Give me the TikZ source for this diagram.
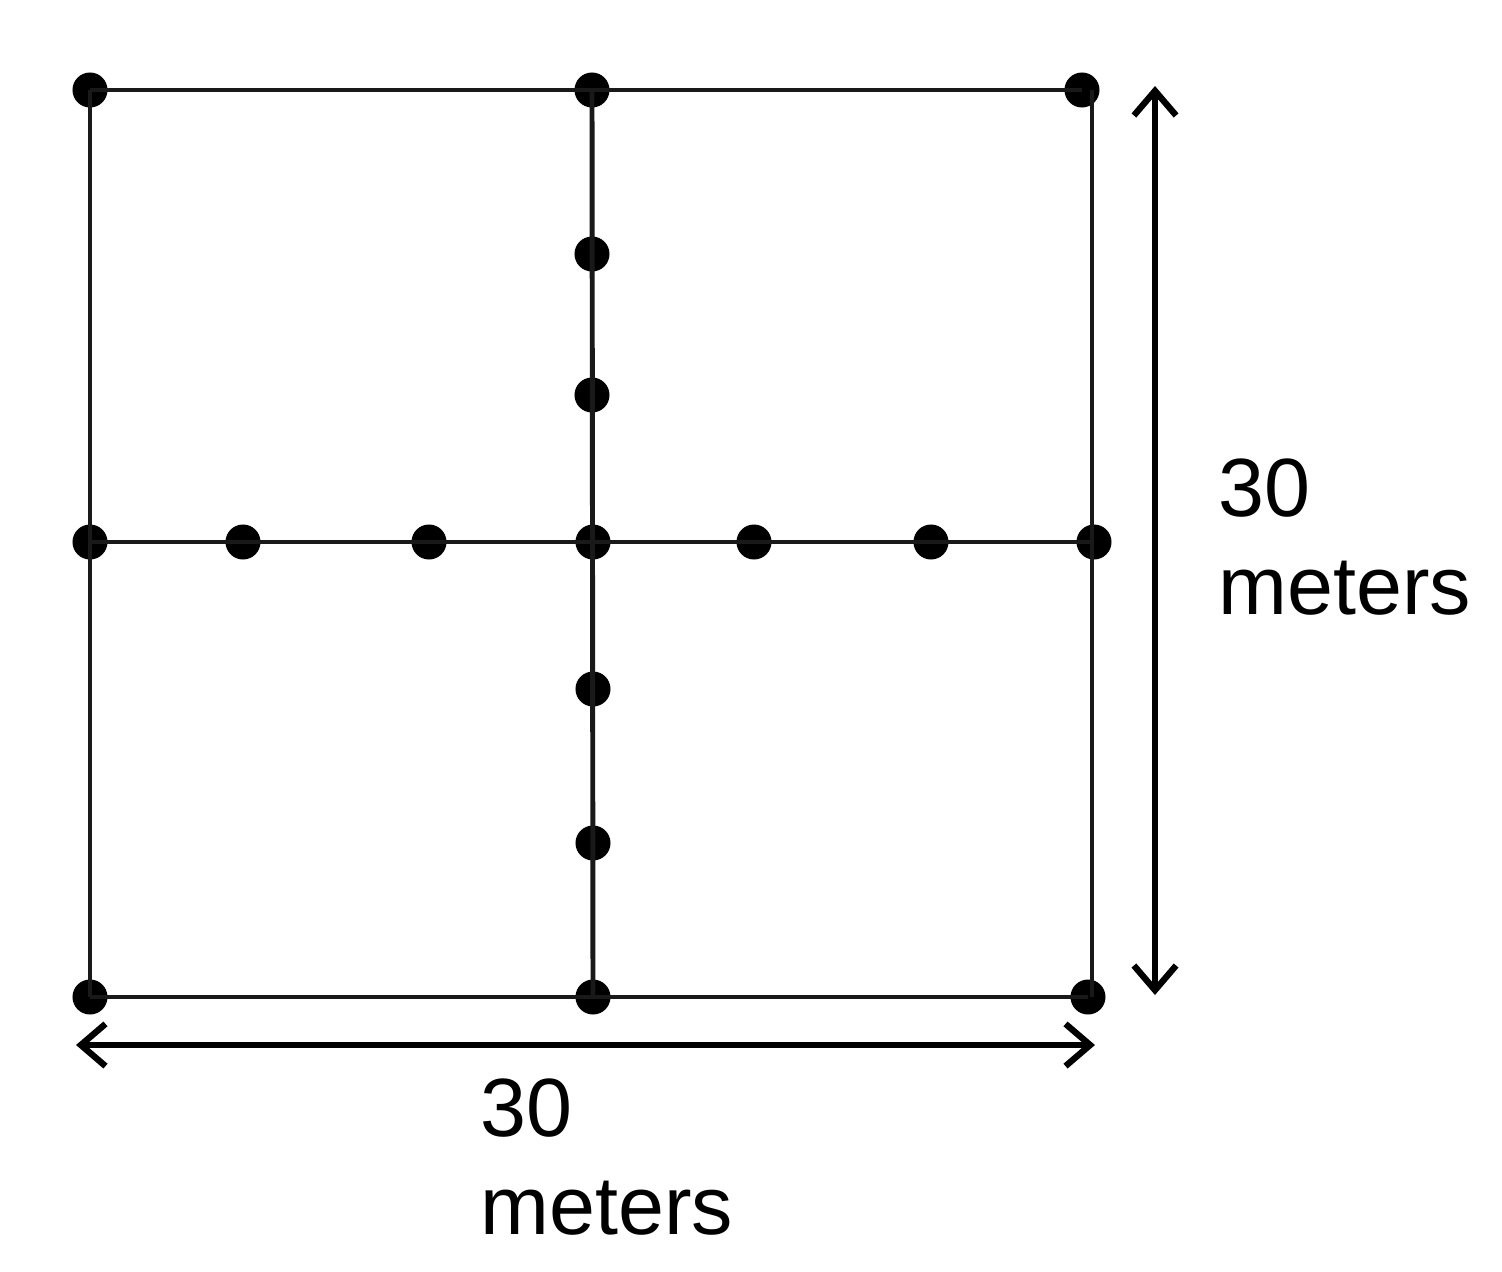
\documentclass[tikz,border=0pt]{standalone}
\usepackage{fontspec}
\setmainfont{Liberation Sans}
\usetikzlibrary{arrows.meta}
\begin{document}
\begin{tikzpicture}[x=0.01cm,y=-0.01cm,
  dot/.style={circle,fill=black,inner sep=0pt,minimum size=0.35cm},
  edge/.style={line width=1.4pt,black!90},
  dim/.style={line width=1.6pt,{Straight Barb[length=7pt,width=12pt,line width=1.8pt]}-{Straight Barb[length=7pt,width=12pt,line width=1.8pt]}},
  lab/.style={font=\fontsize{23.5}{28}\selectfont,anchor=west,inner sep=0pt}]
\useasboundingbox (0,0) rectangle (1502,1272);
\node[dot] (tl) at (90,90) {};
\node[dot] (tm) at (592,90) {};
\node[dot] (tr) at (1082,90) {};
\node[dot] (ml) at (90,542) {};
\node[dot] (m1) at (243,542) {};
\node[dot] (m2) at (429,542) {};
\node[dot] (mc) at (593,542) {};
\node[dot] (m3) at (754,542) {};
\node[dot] (m4) at (931,542) {};
\node[dot] (mr) at (1094,542) {};
\node[dot] (bl) at (90,997) {};
\node[dot] (bm) at (593,997) {};
\node[dot] (br) at (1088,997) {};
\node[dot] (v1) at (592,254) {};
\node[dot] (v2) at (592,395) {};
\node[dot] (v3) at (593,689) {};
\node[dot] (v4) at (593,843) {};
\draw[edge] (tl.center) -- (tr.center);
\draw[edge] (bl.center) -- (br.center);
\draw[edge] (ml.center) -- (mr.center);
\draw[edge] (tl.center) -- (bl.center);
\draw[edge] (1092,90) -- (1092,997);
\draw[edge] (tm.center) -- (bm.center);
\coordinate (a1) at (1155,86);
\coordinate (a2) at (1155,995);
\coordinate (b1) at (76,1045);
\coordinate (b2) at (1095,1045);
\draw[dim] (a1) -- (a2);
\draw[dim] (b1) -- (b2);
\node[lab] (r1) at (1218,488) {30};
\node[lab] (r2) at (1218,588) {meters};
\node[lab] (c1) at (480,1108) {30};
\node[lab] (c2) at (480,1208) {meters};
\end{tikzpicture}
\end{document}
